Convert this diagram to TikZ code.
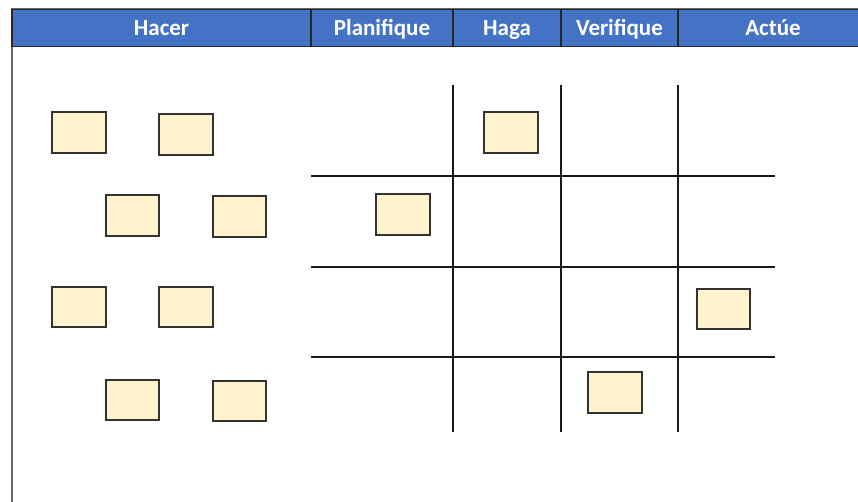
\documentclass[tikz,border=0pt]{standalone}
\usepackage{fontspec}
\setmainfont{Carlito}
\begin{document}
\begin{tikzpicture}[x=1pt,y=-1pt,
  hdr/.style={draw=black!85,line width=1.2pt,fill=headblue,text=white,font=\fontsize{23}{25}\selectfont\bfseries,inner sep=0pt,text height=15pt,text depth=0pt,minimum height=37pt},
  sticky/.style={draw=black!80,line width=1.3pt,fill=stickyfill},
  gridline/.style={draw=black!90,line width=1.3pt}]
\definecolor{headblue}{HTML}{4472C4}
\definecolor{stickyfill}{HTML}{FFF2CC}
\useasboundingbox (0,0) rectangle (858,501);
\fill[white] (0,0) rectangle (858,501);
% outer frame
\draw[black!60,line width=1.5pt] (12,520) -- (12,9) -- (870,9);
% header cells
\node[hdr,minimum width=299pt] (h1) at (161.5,28) {Hacer};
\node[hdr,minimum width=142pt] (h2) at (382,28) {Planifique};
\node[hdr,minimum width=108pt] (h3) at (507,28) {Haga};
\node[hdr,minimum width=117pt] (h4) at (619.5,28) {Verifique};
\node[hdr,minimum width=190pt] (h5) at (773,28) {Actúe};
% grid
\coordinate (v1t) at (453,85); \coordinate (v1b) at (453,432);
\coordinate (v2t) at (561,85); \coordinate (v2b) at (561,432);
\coordinate (v3t) at (678,85); \coordinate (v3b) at (678,432);
\coordinate (r1l) at (311,176); \coordinate (r1r) at (775,176);
\coordinate (r2l) at (311,267); \coordinate (r2r) at (775,267);
\coordinate (r3l) at (311,357); \coordinate (r3r) at (775,357);
\draw[gridline] (v1t) -- (v1b);
\draw[gridline] (v2t) -- (v2b);
\draw[gridline] (v3t) -- (v3b);
\draw[gridline] (r1l) -- (r1r);
\draw[gridline] (r2l) -- (r2r);
\draw[gridline] (r3l) -- (r3r);
% stickies
\draw[sticky] (52,112) rectangle (106,153);
\draw[sticky] (159,114) rectangle (213,155);
\draw[sticky] (106,195) rectangle (159,236);
\draw[sticky] (213,196) rectangle (266,237);
\draw[sticky] (52,287) rectangle (106,327);
\draw[sticky] (159,287) rectangle (213,327);
\draw[sticky] (106,380) rectangle (159,420);
\draw[sticky] (213,381) rectangle (266,421);
\draw[sticky] (484,112) rectangle (538,153);
\draw[sticky] (376,194) rectangle (430,235);
\draw[sticky] (697,289) rectangle (750,329);
\draw[sticky] (588,372) rectangle (642,413);
\end{tikzpicture}
\end{document}
